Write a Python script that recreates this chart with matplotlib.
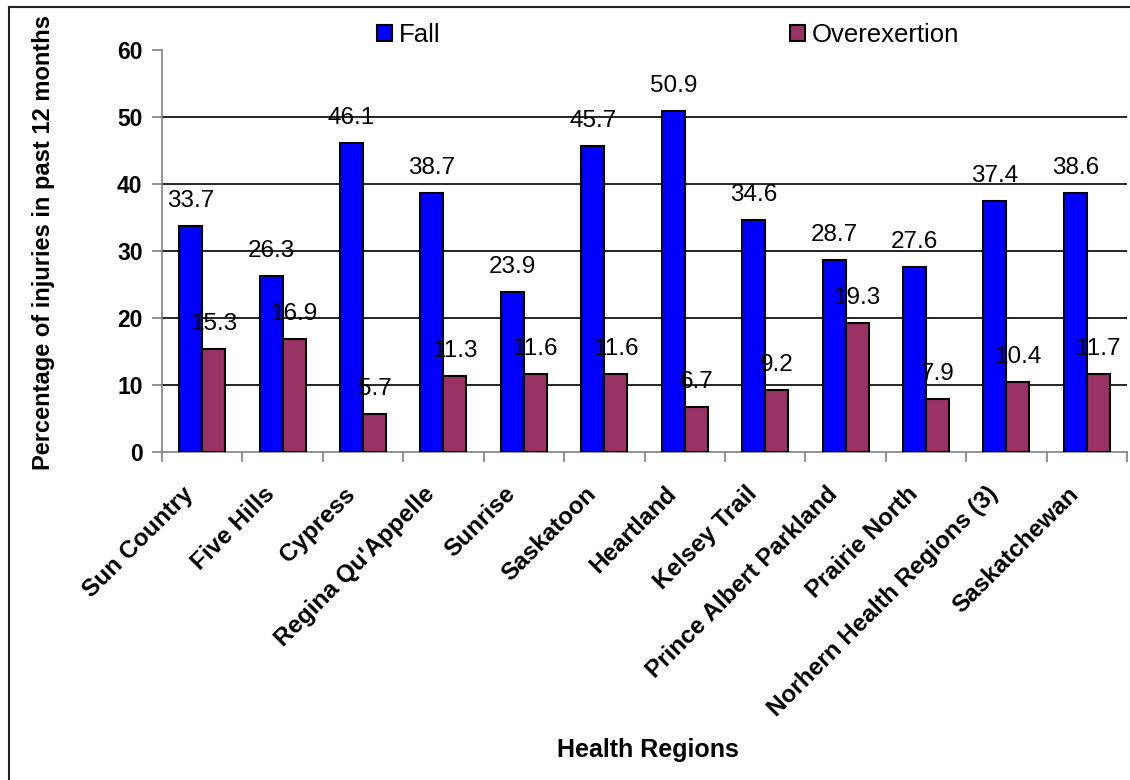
import numpy as np
import matplotlib
matplotlib.use("Agg")
import matplotlib.pyplot as plt
import matplotlib.transforms as mtransforms
from matplotlib.patches import Patch
from matplotlib.lines import Line2D

plt.rcParams['font.family'] = ['Liberation Sans', 'DejaVu Sans']

regions = ['Sun Country', 'Five Hills', 'Cypress', "Regina Qu'Appelle", 'Sunrise',
           'Saskatoon', 'Heartland', 'Kelsey Trail', 'Prince Albert Parkland',
           'Prairie North', 'Norhern Health Regions (3)', 'Saskatchewan']
fall = [33.7, 26.3, 46.1, 38.7, 23.9, 45.7, 50.9, 34.6, 28.7, 27.6, 37.4, 38.6]
overexertion = [15.3, 16.9, 5.7, 11.3, 11.6, 11.6, 6.7, 9.2, 19.3, 7.9, 10.4, 11.7]

W, H = 1130, 780
fig = plt.figure(figsize=(W / 100, H / 100), dpi=100)
ax = fig.add_axes([162 / W, 1 - 452 / H, (1127 - 162) / W, (452 - 50) / H])

x = np.arange(len(regions))
bw = 0.286
b1 = ax.bar(x - bw / 2, fall, bw, color='#0000FF', edgecolor='black', linewidth=1.5, zorder=3)
b2 = ax.bar(x + bw / 2, overexertion, bw, color='#993366', edgecolor='black', linewidth=1.5, zorder=3)

for bars, vals in ((b1, fall), (b2, overexertion)):
    for rect, v in zip(bars, vals):
        ax.annotate(f'{v:.1f}', (rect.get_x() + rect.get_width() / 2, v),
                    xytext=(0, 14), textcoords='offset pixels',
                    ha='center', va='bottom', fontsize=17.5, zorder=4)

ax.set_xlim(-0.5, len(regions) - 0.5)
ax.set_ylim(0, 60)
ax.set_yticks(range(0, 61, 10))
for yv in range(10, 60, 10):
    ax.axhline(yv, color='black', linewidth=1.2, zorder=1)

ax.set_xticks(x)
ax.set_xticklabels(regions, rotation=45, ha='right', va='top', rotation_mode='anchor',
                   fontsize=17.5, fontweight='bold')
ax.tick_params(axis='x', length=0, pad=14)
shift = mtransforms.ScaledTranslation(-20 / 100, -11 / 100, fig.dpi_scale_trans)
for lab in ax.get_xticklabels():
    lab.set_transform(lab.get_transform() + shift)
ax.set_xticks(np.arange(-0.5, len(regions), 1), minor=True)
ax.tick_params(axis='x', which='minor', length=7, color='#808080', width=1.2)
ax.tick_params(axis='y', length=7, color='#808080', width=1.2, labelsize=16.5, pad=7)
for lab in ax.get_yticklabels():
    lab.set_fontweight('bold')

for s in ('top', 'right'):
    ax.spines[s].set_visible(False)
for s in ('left', 'bottom'):
    ax.spines[s].set_color('#808080')
    ax.spines[s].set_linewidth(1.2)

fig.text(44 / W, 1 - 242 / H, 'Percentage of injuries in past 12 months', rotation=90,
         ha='center', va='center', fontsize=17, fontweight='bold')
fig.text(648 / W, 1 - 750 / H, 'Health Regions', ha='center', va='center',
         fontsize=18, fontweight='bold')

handles = [Patch(facecolor='#0000FF', edgecolor='black', linewidth=1.5, label='Fall'),
           Patch(facecolor='#993366', edgecolor='black', linewidth=1.5, label='Overexertion')]
fig.legend(handles=handles, ncol=2, loc='center left', bbox_to_anchor=(377 / W, 1 - 35 / H),
           frameon=False, fontsize=18.5, handlelength=0.58, handleheight=0.58,
           handletextpad=0.27, columnspacing=13.6, borderpad=0, borderaxespad=0)

# chart border (top and left edges)
fig.add_artist(Line2D([9 / W, 1], [1 - 7 / H, 1 - 7 / H], color='#222222', linewidth=1.5,
                      transform=fig.transFigure))
fig.add_artist(Line2D([9 / W, 9 / W], [0, 1 - 7 / H], color='#222222', linewidth=1.5,
                      transform=fig.transFigure))

fig.savefig('out.png', dpi=100)
